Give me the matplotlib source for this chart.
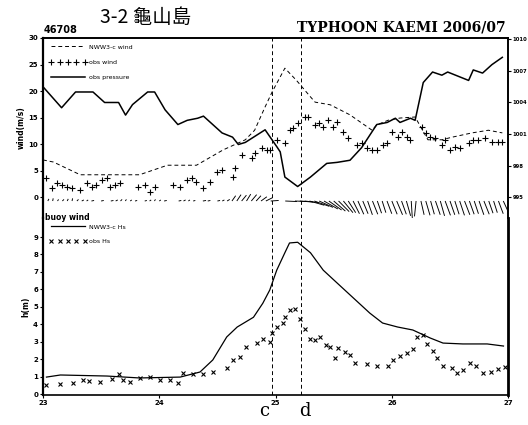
import numpy as np
import matplotlib
matplotlib.use("Agg")
import matplotlib.pyplot as plt
from matplotlib.lines import Line2D

plt.rcParams['font.family'] = ['DejaVu Sans', 'Noto Sans CJK TC']

# ---- data (time in days of 2006/07) ----
pres_t = [23.00, 23.16, 23.28, 23.43, 23.53, 23.65, 23.71, 23.77, 23.90, 23.96,
          24.05, 24.16, 24.24, 24.33, 24.38, 24.54, 24.63, 24.68, 24.74, 24.91,
          25.01, 25.04, 25.08, 25.19, 25.30, 25.44, 25.53, 25.64, 25.74, 25.87,
          25.96, 26.03, 26.07, 26.16, 26.20, 26.27, 26.35, 26.43, 26.48, 26.66,
          26.70, 26.78, 26.86, 26.95]
pres = [1005.5, 1003.5, 1005.0, 1005.0, 1004.0, 1004.0, 1002.8, 1003.8, 1005.0, 1005.0,
        1003.3, 1001.9, 1002.3, 1002.5, 1002.7, 1001.1, 1000.7, 1000.0, 1000.2, 1001.4,
        999.8, 999.3, 996.9, 996.0, 996.9, 998.2, 998.3, 998.5, 999.7, 1001.9,
        1002.1, 1002.5, 1002.1, 1002.5, 1002.3, 1005.9, 1006.9, 1006.6, 1006.9, 1006.1,
        1007.1, 1006.8, 1007.6, 1008.3]

mwind_t = [23.00, 23.09, 23.32, 23.83, 24.07, 24.32, 24.55, 24.74, 24.82, 24.91,
           24.97, 25.08, 25.18, 25.30, 25.34, 25.47, 25.64, 25.83, 25.87, 25.97,
           26.07, 26.20, 26.31, 26.43, 26.52, 26.69, 26.83, 26.95]
mwind = [7.0, 6.6, 4.2, 4.2, 6.0, 6.0, 8.9, 10.8, 12.6, 17.0,
         19.8, 24.3, 22.0, 18.9, 17.9, 17.4, 15.5, 12.6, 13.6, 14.5,
         14.9, 15.1, 10.8, 10.8, 11.3, 12.1, 12.6, 12.1]

owind_t = [23.03, 23.08, 23.12, 23.16, 23.21, 23.25, 23.32, 23.38, 23.42, 23.46,
           23.51, 23.55, 23.58, 23.62, 23.66, 23.82, 23.88, 23.92, 23.96, 24.12,
           24.18, 24.24, 24.28, 24.32, 24.38, 24.44, 24.50, 24.54, 24.63, 24.65,
           24.71, 24.80, 24.82, 24.88, 24.93, 24.95, 25.01, 25.08, 25.12, 25.15,
           25.19, 25.25, 25.28, 25.34, 25.37, 25.41, 25.45, 25.49, 25.53, 25.58,
           25.62, 25.70, 25.74, 25.79, 25.83, 25.87, 25.92, 25.96, 26.00, 26.05,
           26.09, 26.13, 26.16, 26.26, 26.29, 26.33, 26.37, 26.43, 26.46, 26.50,
           26.54, 26.59, 26.66, 26.70, 26.74, 26.80, 26.86, 26.91, 26.95]
owind = [3.6, 1.7, 2.6, 2.3, 1.9, 1.7, 1.3, 2.6, 1.9, 2.3,
         3.2, 3.6, 1.9, 2.3, 2.6, 1.9, 2.3, 0.9, 1.9, 2.3,
         1.9, 3.2, 3.6, 2.8, 1.7, 2.8, 4.7, 5.1, 3.8, 5.5,
         7.9, 7.4, 8.3, 9.2, 8.9, 8.9, 10.8, 10.2, 12.6, 13.0,
         14.0, 15.1, 15.1, 13.6, 14.0, 13.2, 14.5, 13.2, 14.2, 12.3,
         11.1, 9.8, 10.2, 9.2, 8.9, 8.9, 9.8, 10.2, 12.3, 11.3,
         12.3, 11.3, 10.8, 13.2, 12.1, 11.3, 11.1, 9.8, 10.8, 8.9,
         9.4, 9.2, 10.2, 10.8, 10.8, 11.1, 10.4, 10.4, 10.4]

# buoy wind sticks, hourly from 23.0 to 27.0
buoy_u = [0.1, 0.2, 0.1, 0.2, 0.3, 0.2, 0.1, 0.3, 0.4, 0.3, 0.5, 0.6, 0.5, 0.6, 0.5,
          0.4, 0.3, 0.2, 0.3, 0.4, 0.5, 0.4, 0.3, 0.2, 0.3, 0.5, 0.6, 0.6, 0.5, 0.4,
          0.3, 0.4, 0.5, 0.6, 0.5, 0.6, 0.5, 0.4, 0.5,
          0.7, 0.8, 0.9, 0.8, 1.0, 0.9, 1.1, 1.2,
          1.5, 1.8, 2.0, 2.2, 2.0, 2.3, 2.5, 2.6,
          2.8, 2.8, 2.6, 2.6, 2.4, 2.2, 2.0, 1.8,
          1.4, 1.2, 1.1, 1.0, 0.9, 1.0, 0.8, 0.7, 0.9, 1.0, 1.1, 0.9, 0.8, 0.2, -0.3,
          0.6, 0.8, 0.7, 0.9, 0.8, 1.0, 0.9, 0.8, 0.9, 1.0, 0.9, 0.8, 0.9, 1.0, 0.8,
          0.7, 0.9, 1.0, 0.6]
buoy_v = [0.5, 0.4, 0.5, 0.3, 0.3, 0.4, 0.5, 0.3, 0.2, 0.2, 0.1, 0.0, 0.1, 0.0, 0.1,
          0.2, 0.3, 0.3, 0.2, 0.1, 0.0, 0.1, 0.2, 0.3, 0.2, 0.1, 0.0, 0.0, 0.1, 0.2,
          0.2, 0.1, 0.0, 0.1, 0.1, 0.0, 0.1, 0.2, 0.3,
          1.0, 1.2, 1.1, 1.3, 1.2, 1.0, 0.8, 0.6,
          0.1, 0.0, 0.0, -0.1, 0.0, -0.1, -0.2, -0.3,
          -0.8, -1.0, -1.2, -1.5, -1.7, -1.9, -2.0, -2.2,
          -2.2, -2.4, -2.5, -2.4, -2.6, -2.5, -2.3, -2.2, -2.4, -2.5, -2.6, -2.5, -2.8,
          -3.2, -2.9, -2.6, -2.7, -2.5, -2.6, -2.8, -2.7, -2.6, -2.5, -2.7, -2.6, -2.5,
          -2.4, -2.6, -2.5, -2.3, -2.2, -2.4, -2.2, -2.0]
buoy_t = np.linspace(23, 27, len(buoy_u))

mhs_t = [23.03, 23.15, 23.55, 23.83, 24.18, 24.35, 24.46, 24.58, 24.67, 24.81,
         24.89, 24.95, 25.01, 25.08, 25.12, 25.19, 25.30, 25.41, 25.53, 25.67,
         25.81, 25.92, 26.05, 26.18, 26.33, 26.44, 26.61, 26.82, 26.96]
mhs = [0.97, 1.09, 1.03, 0.92, 0.97, 1.26, 1.95, 3.27, 3.84, 4.40,
       5.20, 5.96, 7.10, 8.10, 8.66, 8.70, 8.10, 7.10, 6.36, 5.50,
       4.64, 4.07, 3.84, 3.67, 3.21, 2.92, 2.87, 2.87, 2.75]

ohs_t = [23.03, 23.15, 23.26, 23.34, 23.40, 23.49, 23.59, 23.65, 23.69, 23.75,
         23.83, 23.92, 24.01, 24.09, 24.16, 24.20, 24.29, 24.38, 24.46, 24.58,
         24.63, 24.69, 24.75, 24.84, 24.89, 24.95, 24.97, 25.01, 25.06, 25.08,
         25.12, 25.17, 25.21, 25.25, 25.30, 25.34, 25.38, 25.43, 25.47, 25.51,
         25.54, 25.60, 25.64, 25.68, 25.79, 25.87, 25.97, 26.01, 26.07, 26.13,
         26.18, 26.22, 26.27, 26.30, 26.35, 26.39, 26.44, 26.52, 26.56, 26.61,
         26.67, 26.72, 26.78, 26.85, 26.91, 26.97]
ohs = [0.52, 0.57, 0.63, 0.80, 0.75, 0.69, 0.86, 1.15, 0.80, 0.69,
       0.92, 0.97, 0.80, 0.80, 0.63, 1.20, 1.15, 1.15, 1.26, 1.49,
       1.95, 2.12, 2.70, 2.92, 3.15, 2.98, 3.50, 3.84, 4.07, 4.40,
       4.80, 4.87, 4.30, 3.73, 3.15, 3.10, 3.27, 2.80, 2.70, 2.06,
       2.64, 2.41, 2.24, 1.78, 1.72, 1.60, 1.60, 1.95, 2.18, 2.35,
       2.58, 3.27, 3.38, 2.87, 2.47, 2.06, 1.60, 1.49, 1.20, 1.38,
       1.78, 1.60, 1.20, 1.26, 1.43, 1.55]

events = [24.97, 25.22]
event_names = ['c', 'd']

# ---- figure ----
fig = plt.figure(figsize=(5.28, 4.25), dpi=100)
ax1 = fig.add_axes([0.0814, 0.487, 0.881, 0.4236])
ax2 = fig.add_axes([0.0814, 0.0706, 0.881, 0.4164])
ax2.patch.set_visible(False)
axp = ax1.twinx()

# upper panel: winds and pressure
ax1.plot(mwind_t, mwind, color='k', lw=0.7, ls=(0, (4, 3)))
ax1.plot(owind_t, owind, ls='none', marker='+', color='k', ms=4.5, mew=0.8)
axp.plot(pres_t, pres, color='k', lw=1.1)
ax1.quiver(buoy_t, np.full(len(buoy_t), -0.75), buoy_u, buoy_v,
           angles='uv', scale_units='y', scale=1, pivot='tail',
           headwidth=0, headlength=0, headaxislength=0, width=0.002, color='k')

ax1.set_xlim(23, 27)
ax1.set_ylim(-3.96, 30)
axp.set_ylim(993, 1010.14)
ax1.set_yticks([0, 5, 10, 15, 20, 25, 30])
axp.set_yticks([995, 998, 1001, 1004, 1007, 1010])
ax1.set_xticks([])
ax1.set_ylabel('wind(m/s)', fontsize=5.5, fontweight='bold', labelpad=2)

handles = [Line2D([], [], color='k', lw=0.7, ls=(0, (4, 3))),
           Line2D([], [], ls='none', marker='+', color='k', ms=4, mew=0.8),
           Line2D([], [], color='k', lw=1.1)]
ax1.legend(handles, ['NWW3-c wind', 'obs wind', 'obs pressure'], loc='upper left',
           frameon=False, fontsize=4.5, handlelength=6, numpoints=5,
           borderaxespad=0.6, labelspacing=1.6, handletextpad=0.4)
fig.text(0.086, 1 - 217 / 425, 'buoy wind', fontsize=5.5, fontweight='bold',
         va='center', ha='left', zorder=10)

# lower panel: wave height
ax2.plot(mhs_t, mhs, color='k', lw=0.9)
ax2.plot(ohs_t, ohs, ls='none', marker='x', color='k', ms=2.5, mew=0.8)
ax2.set_xlim(23, 27)
ax2.set_ylim(-0.057, 10.09)
ax2.set_yticks(range(0, 10))
ax2.set_xticks([23, 24, 25, 26, 27])
ax2.set_ylabel('h(m)', fontsize=5.5, fontweight='bold', labelpad=2)
handles2 = [Line2D([], [], color='k', lw=0.9),
            Line2D([], [], ls='none', marker='x', color='k', ms=2.5, mew=0.8)]
ax2.legend(handles2, ['NWW3-c Hs', 'obs Hs'], loc='upper left', frameon=False,
           fontsize=4.5, handlelength=6, numpoints=5, borderaxespad=0.6,
           labelspacing=1.4, handletextpad=0.4)

for ax in (ax1, ax2, axp):
    ax.tick_params(labelsize=5, width=0.8, length=2, pad=1.5)
    for lab in ax.get_xticklabels() + ax.get_yticklabels():
        lab.set_fontweight('bold')
    for s in ax.spines.values():
        s.set_linewidth(1.2)
axp.tick_params(labelsize=3.8, pad=1)
ax1.spines['bottom'].set_visible(False)
ax2.spines['top'].set_visible(False)
axp.spines['bottom'].set_visible(False)
ax2.spines['right'].set_linewidth(2)
ax2.spines['left'].set_linewidth(1.6)
ax1.spines['left'].set_linewidth(1.6)

for t in events:
    ax1.axvline(t, color='k', lw=0.7, ls=(0, (4, 3)))
    ax2.axvline(t, color='k', lw=0.7, ls=(0, (4, 3)))

# titles and labels
fig.text(0.083, 0.918, '46708', fontsize=7, fontweight='bold', ha='left', va='bottom')
fig.text(0.19, 0.935, '3-2 龜山島', fontsize=14, ha='left', va='bottom',
         family=['Noto Sans CJK TC', 'DejaVu Sans'])
fig.text(0.957, 0.918, 'TYPHOON KAEMI 2006/07', fontsize=10, fontweight='bold',
         family='DejaVu Serif', ha='right', va='bottom')
for t, name, dx in zip(events, event_names, [-0.015, 0.008]):
    xf = 0.0814 + 0.881 * (t - 23) / 4 + dx
    fig.text(xf, 0.012, name, fontsize=13, family='DejaVu Serif', ha='center', va='bottom')

fig.savefig('out.png', dpi=100)
